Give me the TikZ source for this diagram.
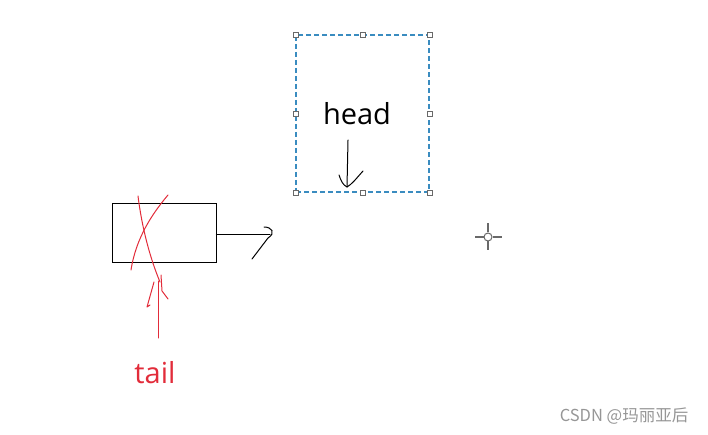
\documentclass[tikz,border=0pt]{standalone}
\usepackage{fontspec}
\setmainfont{Open Sans}
\newfontfamily\cjkfont{Noto Sans CJK SC}
\usetikzlibrary{positioning}
\definecolor{selblue}{RGB}{58,140,192}
\definecolor{gripgray}{RGB}{105,105,105}
\definecolor{inkred}{RGB}{226,44,58}
\definecolor{markgray}{RGB}{150,150,150}

\begin{document}
\begin{tikzpicture}[x=1pt,y=-1pt,
    sel/.style={rectangle,draw=selblue,dash pattern=on 5pt off 3pt,line width=1.1pt,
      minimum width=133pt,minimum height=157pt,inner sep=0pt},
    grip/.style={rectangle,draw=gripgray,fill=white,minimum size=5pt,inner sep=0pt,line width=0.7pt},
    cell/.style={rectangle,draw=black,line width=0.9pt,minimum width=104pt,minimum height=59pt,inner sep=0pt},
    word/.style={font=\fontsize{29}{32}\selectfont,inner sep=0pt},
    pen/.style={line width=1pt,line cap=round,line join=round},
    redpen/.style={pen,draw=inkred}]
  \useasboundingbox (0,0) rectangle (708,435);
  % selection frame round "head"
  \node[sel] (selbox) at (362.5,113.5) {};
  \foreach \a in {north west,north,north east,west,east,south west,south,south east}
    \node[grip] at (selbox.\a) {};
  \node[word] (head) at (357,114) {head};
  \coordinate (htop) at (348,140);
  \coordinate (hend) at (347,187);
  \draw[pen] (htop) -- (hend);
  \draw[pen] (339,175) .. controls (341,181) and (343,185) .. (hend)
    .. controls (352,184) and (355,180) .. (363,171);
  % the list cell
  \node[cell] (cell) at (164,232.5) {};
  \coordinate (nxt) at (270,235);
  \draw[pen] (cell.east |- nxt) -- (nxt);
  \draw[pen] (264,227) .. controls (272,227) and (276,233) .. (268,238) -- (252,259);
  % crossed out in red
  \draw[redpen] (138,196) .. controls (142,228) and (150,258) .. (160,282);
  \draw[redpen] (168,195) .. controls (152,214) and (136,238) .. (131,270);
  % tail pointer
  \node[word,text=inkred] (tail) at (155,373) {tail};
  \coordinate (tfoot) at (158,338);
  \coordinate (ttip) at (158,281);
  \draw[redpen] (tfoot) -- (ttip);
  \draw[redpen] (154,282) -- (147,307) -- (150,305);
  \draw[redpen] (161,275) -- (162,291) -- (168,299);
  % cursor
  \node[circle,draw=gripgray,line width=1pt,minimum size=8pt,inner sep=0pt] (cur) at (488,237) {};
  \draw[gripgray,line width=1.3pt] (cur.north) -- ++(0,-9) (cur.south) -- ++(0,9)
    (cur.west) -- ++(-9,0) (cur.east) -- ++(9,0);
  % watermark
  \node[font=\cjkfont\fontsize{16.5}{18}\selectfont,text=markgray] (mark) at (624,416) {CSDN @玛丽亚后};
\end{tikzpicture}
\end{document}
